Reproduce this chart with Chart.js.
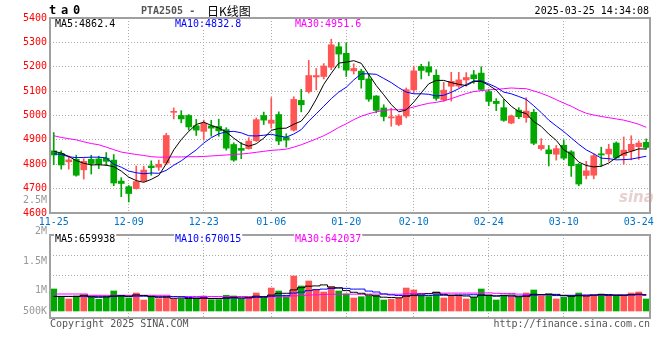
<!DOCTYPE html>
<html><head><meta charset="utf-8">
<script src="https://cdn.jsdelivr.net/npm/chart.js@4.4.1/dist/chart.umd.min.js"></script>
<style>
html,body{margin:0;padding:0;background:#fff;}
#wrap{position:relative;width:660px;height:360px;overflow:hidden;}
#wrap canvas{position:absolute;left:0;top:0;}
</style></head><body>
<div id="wrap"><canvas id="k" width="660" height="360"></canvas><canvas id="v" width="660" height="360"></canvas></div>
<script>
// ---------------- DATA ----------------
const dates = [
'2024-11-25','2024-11-26','2024-11-27','2024-11-28','2024-11-29',
'2024-12-02','2024-12-03','2024-12-04','2024-12-05','2024-12-06','2024-12-09','2024-12-10','2024-12-11','2024-12-12','2024-12-13',
'2024-12-16','2024-12-17','2024-12-18','2024-12-19','2024-12-20','2024-12-23','2024-12-24','2024-12-25','2024-12-26','2024-12-27','2024-12-30','2024-12-31',
'2025-01-02','2025-01-03','2025-01-06','2025-01-07','2025-01-08','2025-01-09','2025-01-10','2025-01-13','2025-01-14','2025-01-15','2025-01-16','2025-01-17',
'2025-01-20','2025-01-21','2025-01-22','2025-01-23','2025-01-24','2025-01-27',
'2025-02-05','2025-02-06','2025-02-07','2025-02-10','2025-02-11','2025-02-12','2025-02-13','2025-02-14','2025-02-17','2025-02-18','2025-02-19','2025-02-20','2025-02-21',
'2025-02-24','2025-02-25','2025-02-26','2025-02-27','2025-02-28',
'2025-03-03','2025-03-04','2025-03-05','2025-03-06','2025-03-07','2025-03-10','2025-03-11','2025-03-12','2025-03-13','2025-03-14',
'2025-03-17','2025-03-18','2025-03-19','2025-03-20','2025-03-21','2025-03-24','2025-03-25'];

const openP  = [4855,4845,4810,4820,4777,4820,4822,4825,4817,4731,4708,4700,4732,4793,4788,4805,5013,5000,5000,4958,4935,4957,4955,4942,4881,4865,4864,4897,5000,4968,5004,4910,4940,5062,5098,5158,5160,5198,5282,5255,5183,5182,5150,5080,5031,4990,4963,4998,5105,5201,5200,5165,5064,5120,5121,5146,5167,5174,5098,5058,5032,4969,5022,4991,5013,4864,4859,4841,4878,4851,4800,4754,4755,4843,4842,4887,4836,4855,4872,4890];
const highP  = [4930,4855,4834,4837,4823,4837,4833,4848,4840,4745,4713,4793,4792,4814,4817,4927,5031,5020,5004,4984,4981,4980,4985,4950,4888,4889,4909,4990,5014,5073,5015,4925,5077,5107,5226,5193,5213,5313,5300,5298,5212,5190,5169,5082,5044,5030,5004,5113,5203,5210,5220,5188,5136,5177,5177,5176,5185,5200,5106,5069,5066,5002,5032,5073,5025,4905,4877,4877,4900,4856,4803,4812,4843,4870,4882,4892,4912,4917,4896,4904];
const lowP   = [4798,4780,4780,4751,4739,4760,4782,4795,4712,4667,4645,4698,4728,4755,4775,4800,4986,4970,4940,4918,4899,4915,4915,4858,4812,4823,4862,4893,4963,4948,4880,4870,4936,5015,5092,5105,5150,5188,5195,5160,5170,5112,5058,5011,4978,4956,4958,4990,5093,5150,5163,5062,5058,5059,5115,5120,5132,5103,5040,5020,4976,4966,4987,4972,4880,4858,4793,4817,4818,4750,4712,4740,4740,4792,4812,4822,4800,4818,4820,4862];
const closeP = [4838,4797,4818,4755,4812,4803,4800,4812,4723,4721,4680,4729,4776,4786,4800,4918,5017,4986,4953,4940,4968,4948,4937,4866,4817,4857,4895,4983,4981,4981,4895,4899,5066,5044,5164,5164,5203,5290,5252,5186,5193,5147,5067,5021,4996,4993,4998,5106,5183,5185,5178,5070,5104,5140,5146,5156,5151,5107,5058,5049,4980,4998,4995,5018,4886,4877,4843,4864,4825,4794,4719,4773,4835,4838,4862,4826,4858,4882,4887,4869];

const ma5  = [4853,4846,4832,4815,4804,4797,4798,4796,4790,4772,4747,4733,4726,4738,4754,4802,4859,4901,4935,4963,4973,4959,4949,4932,4907,4885,4874,4884,4907,4939,4947,4948,4964,4977,5014,5067,5128,5173,5215,5219,5225,5214,5169,5123,5085,5045,5015,5023,5055,5093,5130,5144,5144,5135,5128,5123,5139,5140,5124,5104,5069,5038,5016,5008,4975,4955,4924,4898,4859,4841,4809,4795,4789,4792,4805,4827,4844,4853,4863,4862.4];
const ma10 = [4843,4840,4831,4827,4828,4829,4829,4826,4800,4788,4772,4765,4761,4764,4763,4775,4796,4814,4837,4859,4887,4909,4925,4933,4935,4929,4917,4916,4919,4923,4916,4911,4924,4942,4977,5007,5038,5069,5096,5116,5146,5171,5171,5169,5152,5135,5114,5096,5089,5089,5087,5080,5083,5095,5110,5127,5142,5142,5130,5116,5096,5089,5078,5066,5040,5012,4981,4957,4934,4908,4882,4859,4843,4825,4823,4818,4819,4821,4827,4832.8];
const ma30 = [4917,4910,4905,4900,4892,4885,4880,4870,4860,4850,4845,4840,4836,4831,4829,4829,4830,4830,4831,4831,4832,4834,4836,4838,4840,4842,4845,4849,4853,4857,4859,4862,4870,4880,4892,4904,4917,4933,4951,4966,4983,4997,5007,5015,5021,5024,5023,5027,5035,5043,5050,5054,5060,5069,5080,5090,5098,5102,5105,5107,5110,5113,5111,5110,5101,5091,5079,5065,5051,5038,5022,5009,5002,4996,4991,4986,4981,4973,4964,4951.6];

// volume in thousands of lots
const volumeK = [902,562,492,615,656,562,480,562,820,644,533,738,451,586,504,574,492,492,492,504,615,463,463,644,615,480,562,738,545,943,820,574,1435,1025,1230,890,779,996,820,697,533,586,615,644,451,480,521,943,861,644,586,779,533,656,615,492,562,902,656,451,644,615,562,738,861,615,697,492,562,644,738,644,644,697,644,644,644,738,779,492];
const volMa5K  = [595,595,595,595,644,578,562,574,615,615,607,660,636,590,562,570,521,529,513,513,521,513,508,537,562,533,554,607,586,652,722,726,865,959,1017,1029,1070,984,943,836,767,726,652,615,566,554,541,607,652,689,709,763,681,640,636,615,570,644,644,611,644,652,586,603,685,677,693,681,644,603,627,615,648,672,672,656,656,672,689,659.938];
const volMa10K = [600,600,600,600,600,600,600,600,600,629,592,610,606,603,588,589,590,583,551,537,545,517,519,524,535,526,533,558,563,607,627,638,736,774,835,876,898,924,951,927,898,899,817,779,701,660,634,629,633,628,633,652,644,645,662,663,667,663,642,623,629,613,615,624,648,661,674,633,624,643,652,655,663,659,638,640,635,660,681,670.015];
const volMa30K = [697,697,697,697,697,644,644,644,644,644,644,644,644,644,644,644,595,595,595,595,595,595,595,595,595,595,595,595,595,591,588,589,620,634,653,664,674,688,688,690,690,685,690,692,690,688,688,704,716,720,720,730,732,733,733,733,733,738,742,726,720,721,692,683,670,661,658,642,633,631,638,640,641,643,649,655,659,652,649,642.037];

const tickDates = ['2024-11-25','2024-12-09','2024-12-23','2025-01-06','2025-01-20','2025-02-10','2025-02-24','2025-03-10','2025-03-24'];
const priceTicks = {min:4600, max:5400, step:100};
const volAxisLabels = ['2.5M','2M','1.5M','1M','500K'];

// ---------------- STYLE ----------------
const MONO = '"DejaVu Sans Mono", monospace';
const RED = '#ff5555', GREEN = '#00a800';
const GRID = '#aaaaaa', FRAME = '#a0a0a0', XLAB = '#0073c6';
const up = closeP.map((c,i)=> c >= openP[i]);
const candleColor = up.map(u => u ? RED : GREEN);
const tickIdx = tickDates.map(d => dates.indexOf(d));
const firstTick = tickIdx[0], lastTick = tickIdx[tickIdx.length-1];
const xy = arr => arr.map((v,i)=>({x:i, y:v}));

Chart.defaults.font.family = MONO;
Chart.defaults.font.size = 10;

function txt(ctx, s, x, y, color, font, align, bg){
  ctx.save();
  ctx.font = font || ('10px ' + MONO);
  ctx.textAlign = align || 'left';
  ctx.textBaseline = 'middle';
  if (bg){
    const w = ctx.measureText(s).width;
    const x0 = align==='right' ? x-w : x;
    ctx.fillStyle = bg; ctx.fillRect(x0-1, y-5, w+2, 10);
  }
  ctx.fillStyle = color;
  ctx.fillText(s, x, y);
  ctx.restore();
}

const framePlugin = {
  id:'frame',
  afterDatasetsDraw(chart){
    const a = chart.chartArea, ctx = chart.ctx;
    ctx.save();
    ctx.strokeStyle = FRAME; ctx.lineWidth = 2;
    ctx.strokeRect(a.left, a.top, a.right-a.left, a.bottom-a.top);
    ctx.restore();
  }
};

const xScale = (showLabels, boxH) => ({
  type:'linear', min:-0.5, max:79.5, offset:false,
  afterBuildTicks: s => { s.ticks = tickIdx.map(v => ({value:v})); },
  afterFit: s => { s.height = boxH; },
  ticks:{ display:showLabels, autoSkip:false, maxRotation:0, color:XLAB, padding:3,
          font:{family:MONO, size:10}, callback: v => (dates[v]||'').slice(5) },
  grid:{ offset:false, drawTicks:false, lineWidth:1,
         color: c => (c.tick && (c.tick.value===firstTick || c.tick.value===lastTick)) ? 'rgba(0,0,0,0)' : GRID },
  border:{ display:false, dash:[1,2] }
});

// ---------------- PRICE CHART ----------------
const pricePlugin = {
  id:'priceText',
  afterDraw(chart){
    const ctx = chart.ctx;
    txt(ctx,'t',49,11,'#000','bold 12px '+MONO);
    txt(ctx,'a',61,11,'#000','bold 12px '+MONO);
    txt(ctx,'0',73,11,'#000','bold 12px '+MONO);
    txt(ctx,'PTA2505 -',141,11,'#555','bold 10px '+MONO);
    txt(ctx,'日K线图',207,11,'#000','12px "Noto Sans CJK SC", sans-serif');
    txt(ctx,'2025-03-25 14:34:08',649,11,'#000','10px '+MONO,'right');
    txt(ctx,'MA5:'+ma5[ma5.length-1].toFixed(1),55,24,'#000',null,'left','#fff');
    txt(ctx,'MA10:'+ma10[ma10.length-1].toFixed(1),175,24,'#0000ff',null,'left','#fff');
    txt(ctx,'MA30:'+ma30[ma30.length-1].toFixed(1),295,24,'#ff00ff',null,'left','#fff');
    txt(ctx,'sina',619,198,'rgba(200,150,150,0.45)','italic bold 15px "DejaVu Sans", sans-serif');
  }
};

new Chart(document.getElementById('k'), {
  type:'bar',
  data:{ datasets:[
    {type:'line', data:xy(ma5),  borderColor:'#000000', borderWidth:1, pointRadius:0, tension:0, order:0},
    {type:'line', data:xy(ma10), borderColor:'#0000ff', borderWidth:1, pointRadius:0, tension:0, order:0},
    {type:'line', data:xy(ma30), borderColor:'#ff00ff', borderWidth:1, pointRadius:0, tension:0, order:0},
    {type:'bar', data:openP.map((o,i)=>({x:i, y:[o, closeP[i]]})), backgroundColor:candleColor,
      barThickness:6, grouped:false, minBarLength:1, borderWidth:0, order:1},
    {type:'bar', data:lowP.map((l,i)=>({x:i, y:[l, highP[i]]})), backgroundColor:candleColor,
      barThickness:1, grouped:false, borderWidth:0, order:2}
  ]},
  options:{
    responsive:false, animation:false, events:[],
    layout:{ padding:{left:0, right:10, top:18, bottom:0} },
    plugins:{ legend:{display:false}, tooltip:{enabled:false} },
    scales:{
      x: xScale(true, 147),
      y:{ min:priceTicks.min, max:priceTicks.max,
          afterFit: s => { s.width = 50; },
          ticks:{ stepSize:priceTicks.step, color:'#ff0000', padding:3, font:{family:MONO,size:10}, callback: v => String(v) },
          grid:{ color:GRID, drawTicks:false, lineWidth:1 },
          border:{ display:false, dash:[1,2] } }
    }
  },
  plugins:[framePlugin, pricePlugin]
});

// ---------------- VOLUME CHART ----------------
const VOL_MIN = -287, VOL_MAX = 3116;      // axis range in thousands
const volGrid = [1476, 2296];
const volLabelY = [200, 231, 261, 290, 311];

const volPlugin = {
  id:'volText',
  afterDraw(chart){
    const ctx = chart.ctx;
    volAxisLabels.forEach((s,i)=> txt(ctx, s, 47, volLabelY[i], '#999999', null, 'right'));
    txt(ctx,'MA5:'+Math.round(volMa5K[volMa5K.length-1]*1000),55,239,'#000',null,'left','#fff');
    txt(ctx,'MA10:'+Math.round(volMa10K[volMa10K.length-1]*1000),175,239,'#0000ff',null,'left','#fff');
    txt(ctx,'MA30:'+Math.round(volMa30K[volMa30K.length-1]*1000),295,239,'#ff00ff',null,'left','#fff');
    txt(ctx,'Copyright 2025 SINA.COM',50,324,'#555555');
    txt(ctx,'http://finance.sina.com.cn',650,324,'#555555',null,'right');
  }
};

new Chart(document.getElementById('v'), {
  type:'bar',
  data:{ datasets:[
    {type:'line', data:xy(volMa5K),  borderColor:'#000000', borderWidth:1, pointRadius:0, stepped:'middle', order:0},
    {type:'line', data:xy(volMa10K), borderColor:'#0000ff', borderWidth:1, pointRadius:0, stepped:'middle', order:0},
    {type:'line', data:xy(volMa30K), borderColor:'#ff00ff', borderWidth:1, pointRadius:0, stepped:'middle', order:0},
    {type:'bar', data:xy(volumeK), backgroundColor:candleColor, barThickness:6, grouped:false, borderWidth:0, order:1}
  ]},
  options:{
    responsive:false, animation:false, events:[],
    layout:{ padding:{left:0, right:10, top:235, bottom:0} },
    plugins:{ legend:{display:false}, tooltip:{enabled:false} },
    scales:{
      x: xScale(false, 42),
      y:{ min:VOL_MIN, max:VOL_MAX,
          afterBuildTicks: s => { s.ticks = volGrid.map(v => ({value:v})); },
          afterFit: s => { s.width = 50; },
          ticks:{ display:false },
          grid:{ color:GRID, drawTicks:false, lineWidth:1 },
          border:{ display:false, dash:[1,2] } }
    }
  },
  plugins:[framePlugin, volPlugin]
});
</script>
</body></html>
